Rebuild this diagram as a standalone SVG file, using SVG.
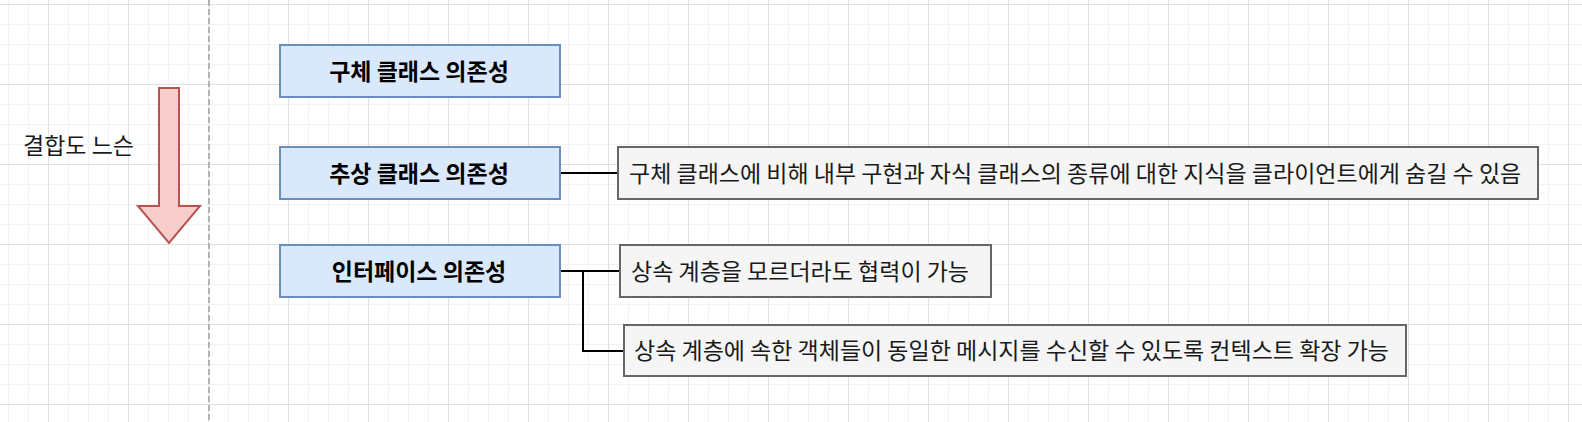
<svg xmlns="http://www.w3.org/2000/svg" width="1582" height="422" viewBox="0 0 1582 422">
  <style>
    .txt { font-family: "Noto Sans CJK KR", "Noto Sans", sans-serif; font-size: 23px; fill: #1a1a1a; }
    .bold { font-weight: bold; fill: #000000; }
    .box { fill: #dae8fc; stroke: #6c8ebf; stroke-width: 2; }
    .note { fill: #f5f5f5; stroke: #666666; stroke-width: 2; }
    .conn { fill: none; stroke: #000000; stroke-width: 2; }
  </style>
  <defs>
    <pattern id="minor" patternUnits="userSpaceOnUse" x="8" y="4" width="20" height="20">
      <rect x="0" y="0" width="1" height="20" fill="#f2f2f2"/>
      <rect x="0" y="0" width="20" height="1" fill="#f2f2f2"/>
    </pattern>
    <pattern id="major" patternUnits="userSpaceOnUse" x="48" y="4" width="80" height="80">
      <rect x="0" y="0" width="1" height="80" fill="#e0e0e0"/>
      <rect x="0" y="0" width="80" height="1" fill="#e0e0e0"/>
    </pattern>
  </defs>
  <rect width="1582" height="422" fill="#ffffff"/>
  <rect width="1582" height="422" fill="url(#minor)"/>
  <rect width="1582" height="422" fill="url(#major)"/>

  <line x1="209" y1="0" x2="209" y2="422" stroke="#b3b3b3" stroke-width="2" stroke-dasharray="6 3"/>

  <g id="label-coupling">
    <text class="txt" x="23" y="154">결합도 느슨</text>
  </g>

  <g id="arrow-down">
    <polygon points="159,88 179,88 179,206 200,206 169,243 138,206 159,206" fill="#f8cecc" stroke="#b85450" stroke-width="2"/>
  </g>

  <g id="connectors">
    <path class="conn" d="M560,173 L618,173"/>
    <path class="conn" d="M560,271 L620,271"/>
    <path class="conn" d="M583,271 L583,351 L624,351"/>
  </g>

  <g id="node-concrete">
    <rect class="box" x="280" y="45" width="280" height="52"/>
    <text class="txt bold" x="419" y="80" text-anchor="middle">구체 클래스 의존성</text>
  </g>
  <g id="node-abstract">
    <rect class="box" x="280" y="147" width="280" height="52"/>
    <text class="txt bold" x="419" y="182" text-anchor="middle">추상 클래스 의존성</text>
  </g>
  <g id="node-interface">
    <rect class="box" x="280" y="245" width="280" height="52"/>
    <text class="txt bold" x="419" y="280" text-anchor="middle">인터페이스 의존성</text>
  </g>

  <g id="note-abstract">
    <rect class="note" x="618" y="147" width="920" height="52"/>
    <text class="txt" x="629" y="182">구체 클래스에 비해 내부 구현과 자식 클래스의 종류에 대한 지식을 클라이언트에게 숨길 수 있음</text>
  </g>
  <g id="note-interface-1">
    <rect class="note" x="620" y="245" width="371" height="52"/>
    <text class="txt" x="631" y="280">상속 계층을 모르더라도 협력이 가능</text>
  </g>
  <g id="note-interface-2">
    <rect class="note" x="624" y="325" width="782" height="51"/>
    <text class="txt" x="634" y="359">상속 계층에 속한 객체들이 동일한 메시지를 수신할 수 있도록 컨텍스트 확장 가능</text>
  </g>
</svg>
